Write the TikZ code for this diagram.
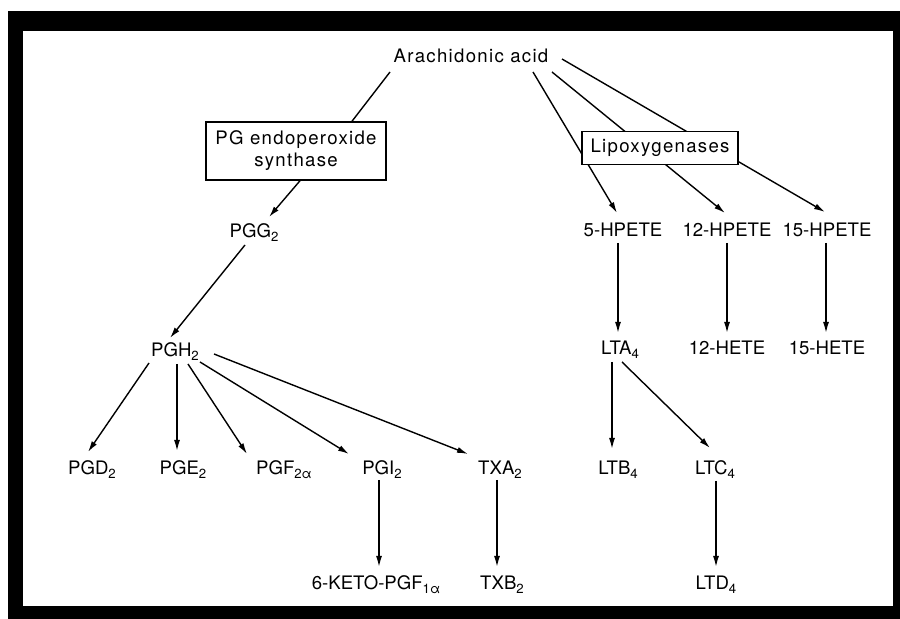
\documentclass[tikz,border=0pt]{standalone}
\usepackage{fontspec}
\setmainfont[LetterSpace=7]{TeX Gyre Heros}
\newfontfamily\capsfont{TeX Gyre Heros}
\usetikzlibrary{arrows.meta,calc}
\newcommand\sbs[1]{\raisebox{-0.35ex}{\fontsize{6.6pt}{7pt}\selectfont #1}}
\begin{document}
\begin{tikzpicture}[x=0.5pt,y=-0.5pt,
  lbl/.style={inner sep=0pt, anchor=base, font=\capsfont\fontsize{9.3pt}{11pt}\selectfont},
  wlbl/.style={inner sep=0pt, anchor=base, font=\fontsize{9.3pt}{11pt}\selectfont},
  enz/.style={draw, line width=0.75pt, fill=white, inner sep=0pt, align=center,
    font=\fontsize{9.3pt}{11pt}\selectfont},
  arr/.style={line width=0.7pt, -{Latex[length=5.5pt,width=3pt]}},
  ln/.style={line width=0.7pt}]
\useasboundingbox (0,0) rectangle (900,619);
\fill[black] (8,11) rectangle (900,619);
\fill[white] (23,31) rectangle (893,606);

% text nodes
\node[wlbl] (aa) at (471,63) {Arachidonic acid};
\node[lbl] (pgg) at (254,238) {PGG\sbs{2}};
\node[lbl] (pgh) at (175,357) {PGH\sbs{2}};
\node[lbl] (pgd) at (92,475) {PGD\sbs{2}};
\node[lbl] (pge) at (183,475) {PGE\sbs{2}};
\node[lbl] (pgf) at (284,475) {PGF\sbs{2α}};
\node[lbl] (pgi) at (382,475) {PGI\sbs{2}};
\node[lbl] (txa) at (500,475) {TXA\sbs{2}};
\node[lbl] (keto) at (376,590) {6-KETO-PGF\sbs{1α}};
\node[lbl] (txb) at (502,590) {TXB\sbs{2}};
\node[lbl] (h5) at (623,237) {5-HPETE};
\node[lbl] (h12) at (727,237) {12-HPETE};
\node[lbl] (h15) at (827,237) {15-HPETE};
\node[lbl] (lta) at (620,355) {LTA\sbs{4}};
\node[lbl] (hete12) at (727,355) {12-HETE};
\node[lbl] (hete15) at (827,355) {15-HETE};
\node[lbl] (ltb) at (618,475) {LTB\sbs{4}};
\node[lbl] (ltc) at (715,475) {LTC\sbs{4}};
\node[lbl] (ltd) at (716,590) {LTD\sbs{4}};

% lipoxygenase branches (under the box)
\draw[arr] ($(aa.base)+(62,9)$) -- ($(h5.base)+(-6,-24)$);
\draw[arr] ($(aa.base)+(81,9)$) -- ($(h12.base)+(-2,-24)$);
\draw[arr] ($(aa.base)+(91,-4)$) -- ($(h15.base)+(-2,-25)$);

% enzyme boxes
\node[enz, minimum width=90pt, minimum height=29pt] (pgbox) at (296,151)
  {PG endoperoxide\\synthase};
\node[enz, minimum width=78pt, minimum height=16.5pt] (lipo) at (660,148)
  {Lipoxygenases};

% cyclooxygenase branch
\draw[ln] ($(aa.base)+(-81,9)$) -- ($(pgbox.north)+(56,0)$);
\draw[arr] ($(pgbox.south)+(4,0)$) -- ($(pgg.base)+(15,-21)$);
\draw[arr] ($(pgg.base)+(-9,7)$) -- ($(pgh.base)+(-5,-19)$);
\draw[arr] ($(pgh.base)+(-26,6)$) -- ($(pgd.base)+(-4,-23)$);
\draw[arr] ($(pgh.base)+(2,7)$) -- ($(pge.base)+(-6,-24)$);
\draw[arr] ($(pgh.base)+(13,7)$) -- ($(pgf.base)+(-37,-21)$);
\draw[arr] ($(pgh.base)+(25,5)$) -- ($(pgi.base)+(-33,-21)$);
\draw[arr] ($(pgh.base)+(39,-3)$) -- ($(txa.base)+(-32,-21)$);
\draw[arr] ($(pgi.base)+(-3,5)$) -- ($(keto.base)+(3,-23)$);
\draw[arr] ($(txa.base)+(-3,5)$) -- ($(txb.base)+(-5,-23)$);

% lipoxygenase products
\draw[arr] ($(h5.base)+(-5,6)$) -- ($(lta.base)+(-2,-22)$);
\draw[arr] ($(h12.base)+(0,6)$) -- ($(hete12.base)+(0,-22)$);
\draw[arr] ($(h15.base)+(-1,6)$) -- ($(hete15.base)+(-1,-22)$);
\draw[arr] ($(lta.base)+(-8,7)$) -- ($(ltb.base)+(-6,-26)$);
\draw[arr] ($(lta.base)+(2,7)$) -- ($(ltc.base)+(-5,-27)$);
\draw[arr] ($(ltc.base)+(1,6)$) -- ($(ltd.base)+(0,-23)$);
\end{tikzpicture}
\end{document}
